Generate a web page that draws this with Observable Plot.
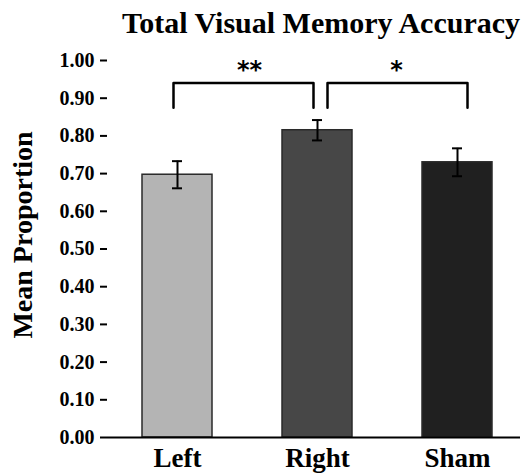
<!DOCTYPE html>
<html>
<head>
<meta charset="utf-8">
<script src="https://cdn.jsdelivr.net/npm/d3@7"></script>
<script src="https://cdn.jsdelivr.net/npm/@observablehq/plot@0.6"></script>
<style>
  html, body { margin: 0; padding: 0; background: #fff; }
</style>
</head>
<body>
<div id="chart"></div>
<script>
const categories = ["Left", "Right", "Sham"];
const means = [0.697, 0.815, 0.730];
const errors = [0.036, 0.027, 0.037];
const barColors = ["#b4b4b4", "#474747", "#202020"];
const yTicks = [0, 0.1, 0.2, 0.3, 0.4, 0.5, 0.6, 0.7, 0.8, 0.9, 1.0];
const title = "Total Visual Memory Accuracy";
const yLabel = "Mean Proportion";
const comparisons = [
  {from: "Left", to: "Right", label: "**", top: 0.94, bottom: 0.875},
  {from: "Right", to: "Sham", label: "*", top: 0.94, bottom: 0.875}
];

const data = categories.map((c, i) => ({cat: c, mean: means[i], err: errors[i], color: barColors[i]}));
const bracketLines = comparisons.map(c => [
  {x: c.from, y: c.bottom}, {x: c.from, y: c.top}, {x: c.to, y: c.top}, {x: c.to, y: c.bottom}
]);

const serif = "'Liberation Serif', 'Times New Roman', serif";

const chart = Plot.plot({
  width: 523,
  height: 475,
  marginTop: 60,
  marginBottom: 38,
  marginLeft: 107,
  marginRight: 3,
  style: {fontFamily: serif, background: "#fff"},
  x: {domain: categories, range: [107, 527], paddingInner: 0.5, paddingOuter: 0.245, axis: null},
  y: {domain: [0, 1], axis: null},
  marks: [
    Plot.barY(data, {x: "cat", y: "mean", fill: "color", stroke: "#2a2a2a", strokeWidth: 1.5}),
    Plot.ruleX(data, {x: "cat", y1: d => d.mean - d.err, y2: d => d.mean + d.err, stroke: "#000", strokeWidth: 2}),
    Plot.tickY(data, {x: "cat", y: d => d.mean + d.err, stroke: "#000", strokeWidth: 2, insetLeft: 30, insetRight: 30}),
    Plot.tickY(data, {x: "cat", y: d => d.mean - d.err, stroke: "#000", strokeWidth: 2, insetLeft: 30, insetRight: 30}),
    Plot.line(bracketLines[0], {x: "x", y: "y", dx: -4, stroke: "#000", strokeWidth: 2.5, strokeLinejoin: "round"}),
    Plot.line(bracketLines[1], {x: "x", y: "y", dx: 10, stroke: "#000", strokeWidth: 2.5, strokeLinejoin: "round"}),
    Plot.text([comparisons[0]], {x: "from", y: 0.975, text: "label", dx: 72, fontSize: 24, fontWeight: "bold", fontFamily: "'DejaVu Sans', sans-serif", fill: "#000"}),
    Plot.text([comparisons[1]], {x: "from", y: 0.975, text: "label", dx: 79, fontSize: 24, fontWeight: "bold", fontFamily: "'DejaVu Sans', sans-serif", fill: "#000"}),
    Plot.ruleY([0], {stroke: "#000", strokeWidth: 2}),
    Plot.ruleX([0], {x: () => 0, frameAnchor: "left", y1: 0, y2: 1, stroke: "#000", strokeWidth: 2, dx: 0}),
    Plot.axisY({ticks: yTicks, tickFormat: () => "", tickSize: 7, strokeWidth: 2, label: null}),
    Plot.text(yTicks, {frameAnchor: "left", y: d => d, text: d3.format(".2f"), textAnchor: "end", dx: -13, fontSize: 20, fontWeight: "bold", fill: "#000"}),
    Plot.axisX({tickSize: 0, tickPadding: 10, fontSize: 27, fontWeight: "bold", fill: "#000", label: null}),
    Plot.text([yLabel], {frameAnchor: "left", textAnchor: "middle", text: d => d, rotate: -90, dx: -84, dy: -14, fontSize: 28, fontWeight: "bold", fill: "#000"}),
    Plot.text([title], {frameAnchor: "top", text: d => d, dx: 7, dy: -49, fontSize: 30, fontWeight: "bold", fill: "#000"})
  ]
});
document.getElementById("chart").append(chart);
</script>
</body>
</html>
